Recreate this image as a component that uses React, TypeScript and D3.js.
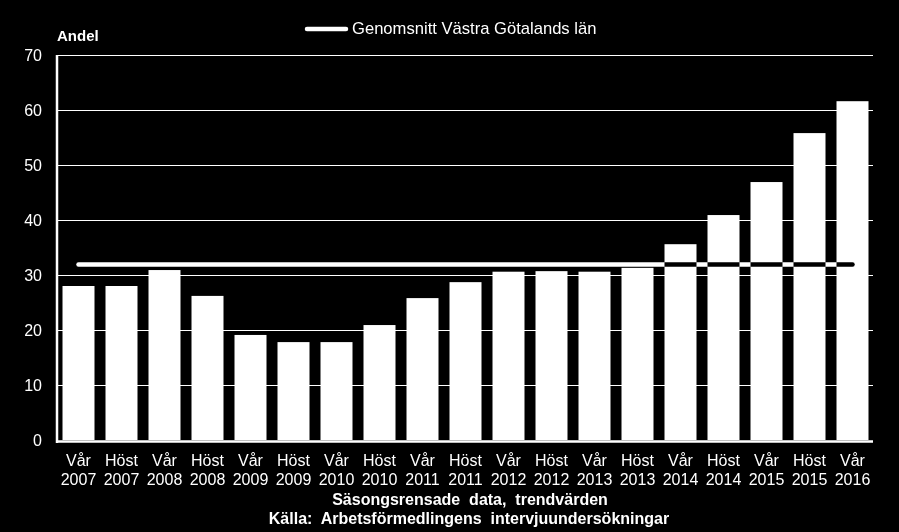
import React from "react";
import * as d3 from "d3";

const seasons = ["Vår", "Höst", "Vår", "Höst", "Vår", "Höst", "Vår", "Höst", "Vår", "Höst", "Vår", "Höst", "Vår", "Höst", "Vår", "Höst", "Vår", "Höst", "Vår"];
const years = ["2007", "2007", "2008", "2008", "2009", "2009", "2010", "2010", "2011", "2011", "2012", "2012", "2013", "2013", "2014", "2014", "2015", "2015", "2016"];
const values = [28, 28, 30.9, 26.2, 19.1, 17.8, 17.8, 20.9, 25.8, 28.7, 30.6, 30.7, 30.6, 31.3, 35.6, 40.9, 46.9, 55.8, 61.6];
const average = 31.9;
const yTicks = [0, 10, 20, 30, 40, 50, 60, 70];
const legendLabel = "Genomsnitt Västra Götalands län";
const yTitle = "Andel";
const xTitle = "Säsongsrensade  data,  trendvärden";
const sourceText = "Källa:  Arbetsförmedlingens  intervjuundersökningar";

const W = 899;
const H = 532;
const FONT = "'Liberation Sans', Arial, Helvetica, sans-serif";

export default function App() {
  const keys = values.map((_, i) => String(i));
  const x = d3.scaleBand<string>().domain(keys).range([57, 874]).paddingInner(0.256).paddingOuter(0.128);
  const y = d3.scaleLinear().domain([0, 70]).range([440, 55]);
  const bw = x.bandwidth();
  const lineGen = d3.line<number>()
    .x((_, i) => (x(String(i)) as number) + bw / 2)
    .y((d) => y(d));
  const avgData = values.map(() => average);

  return (
    <div style={{ position: "fixed", left: 0, top: 0, width: W, height: H, background: "#000" }}>
      <svg width={W} height={H} style={{ display: "block", isolation: "isolate" }}>
        <rect x={0} y={0} width={W} height={H} fill="#000" />
        {yTicks.filter((t) => t > 0).map((t) => (
          <line key={t} x1={58} x2={873} y1={Math.round(y(t)) + 0.5} y2={Math.round(y(t)) + 0.5} stroke="#fff" strokeWidth={1} />
        ))}
        {values.map((v, i) => (
          <rect key={i} x={x(String(i)) as number} y={y(v)} width={bw} height={y(0) - y(v)} fill="#fff" />
        ))}
        <line x1={57} x2={57} y1={55} y2={443} stroke="#fff" strokeWidth={2.5} />
        <line x1={56} x2={873} y1={441.5} y2={441.5} stroke="#fff" strokeWidth={2.5} />
        <path d={lineGen(avgData) || ""} fill="none" stroke="#fff" strokeWidth={4.5} strokeLinecap="round" style={{ mixBlendMode: "difference" }} />
        {yTicks.map((t) => (
          <text key={t} x={42} y={y(t) + 6} textAnchor="end" fill="#fff" fontFamily={FONT} fontSize={16}>{t}</text>
        ))}
        <text x={57} y={41} fill="#fff" fontFamily={FONT} fontSize={15} fontWeight="bold">{yTitle}</text>
        <line x1={307} x2={346} y1={29} y2={29} stroke="#fff" strokeWidth={4.5} strokeLinecap="round" />
        <text x={352} y={34} fill="#fff" fontFamily={FONT} fontSize={16.6}>{legendLabel}</text>
        {values.map((_, i) => {
          const cx = (x(String(i)) as number) + bw / 2;
          return (
            <g key={i}>
              <text x={cx} y={466} textAnchor="middle" fill="#fff" fontFamily={FONT} fontSize={16}>{seasons[i]}</text>
              <text x={cx} y={485} textAnchor="middle" fill="#fff" fontFamily={FONT} fontSize={16}>{years[i]}</text>
            </g>
          );
        })}
        <text x={470} y={505} textAnchor="middle" fill="#fff" fontFamily={FONT} fontSize={16} fontWeight="bold" style={{ whiteSpace: "pre" }}>{xTitle}</text>
        <text x={469} y={524} textAnchor="middle" fill="#fff" fontFamily={FONT} fontSize={16} fontWeight="bold" style={{ whiteSpace: "pre" }}>{sourceText}</text>
      </svg>
    </div>
  );
}
